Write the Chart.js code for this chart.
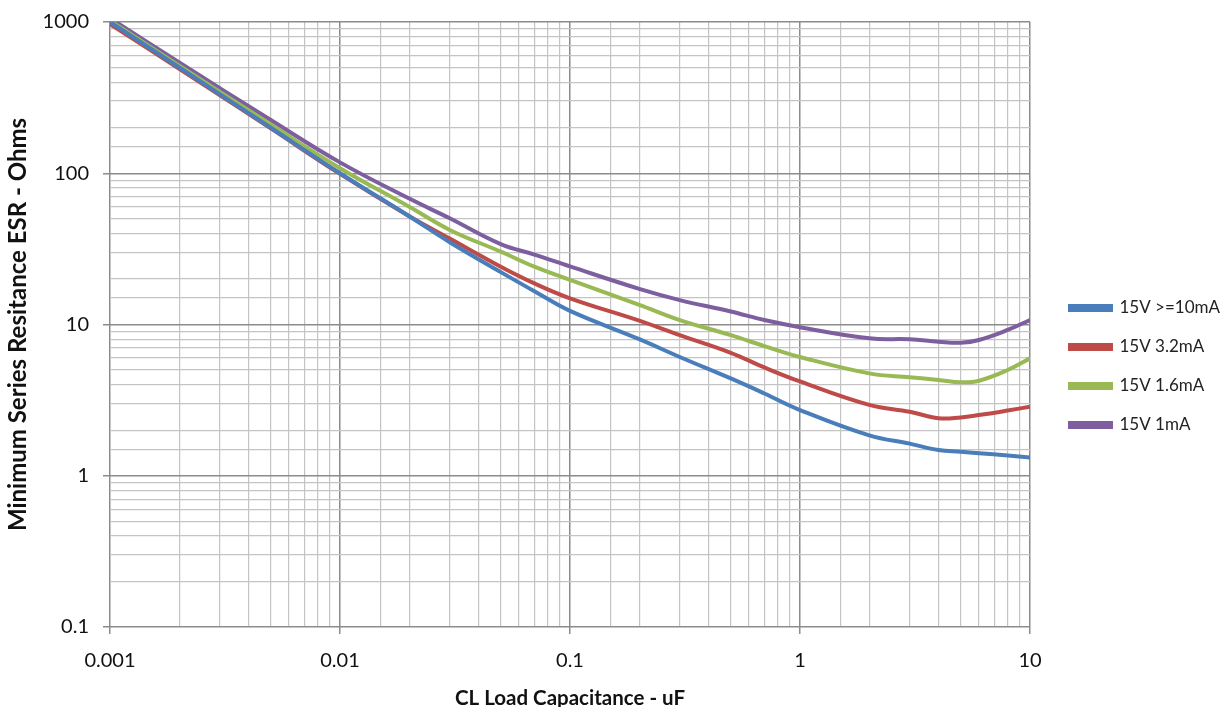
<!DOCTYPE html>
<html>
<head>
<meta charset="utf-8">
<script src="https://cdn.jsdelivr.net/npm/chart.js@4/dist/chart.umd.min.js"></script>
<style>
  html, body { margin: 0; padding: 0; background: #fff; }
  #wrap { width: 1222px; height: 707px; }
</style>
</head>
<body>
<div id="wrap"><canvas id="esrChart"></canvas></div>
<script>
// capacitance in uF, ESR in ohms
const capacitance = [0.001, 0.002, 0.005, 0.01, 0.02, 0.03, 0.05, 0.07, 0.1, 0.2, 0.3, 0.5, 0.7, 1, 2, 3, 4, 5, 6, 8, 10];
const esr10mA = [1000, 500, 200, 100, 52, 35, 22.2, 16.6, 12.3, 8.0, 6.1, 4.4, 3.5, 2.72, 1.85, 1.63, 1.48, 1.44, 1.41, 1.36, 1.32];
const esr3p2mA = [970, 490, 198, 99, 52, 37, 24.1, 18.7, 14.9, 10.6, 8.5, 6.5, 5.2, 4.2, 2.94, 2.65, 2.4, 2.43, 2.52, 2.7, 2.86];
const esr1p6mA = [1020, 515, 210, 108, 60, 42.2, 30.3, 24.1, 19.7, 13.5, 10.7, 8.5, 7.2, 6.1, 4.75, 4.48, 4.3, 4.15, 4.25, 5.0, 5.97];
const esr1mA = [1060, 540, 225, 118, 68, 50.4, 34, 29, 24.2, 17.2, 14.5, 12.2, 10.7, 9.6, 8.1, 7.98, 7.7, 7.58, 7.9, 9.2, 10.7];
const seriesNames = ['15V >=10mA', '15V 3.2mA', '15V 1.6mA', '15V 1mA'];
const seriesColors = ['#4a7ebb', '#be4b48', '#98b954', '#7d5fa0'];

function isDecade(v) {
  const l = Math.log10(v);
  return Math.abs(l - Math.round(l)) < 1e-6;
}

function makeSet(i, values) {
  return {
    label: seriesNames[i],
    data: capacitance.map((c, k) => ({ x: c, y: values[k] })),
    borderColor: seriesColors[i],
    backgroundColor: seriesColors[i],
    borderWidth: 4,
    pointRadius: 0,
    tension: 0.4,
    fill: false,
  };
}

const gridOpts = {
  color: (ctx) => (ctx.tick && isDecade(ctx.tick.value) ? '#8c8c8c' : '#c4c4c4'),
  lineWidth: (ctx) => (ctx.tick && isDecade(ctx.tick.value) ? 1.5 : 1.2),
  tickColor: (ctx) => (ctx.tick && isDecade(ctx.tick.value) ? '#8c8c8c' : 'rgba(0,0,0,0)'),
  tickLength: 7,
  drawTicks: true,
};

// draw the legend a little right/down of its layout box (layout itself untouched)
const legendShift = {
  id: 'legendShift',
  beforeDraw(chart) {
    const lg = chart.legend;
    lg.left += 18; lg.right += 18;
    lg.top += 2; lg.bottom += 2;
  },
  afterDraw(chart) {
    const lg = chart.legend;
    lg.left -= 18; lg.right -= 18;
    lg.top -= 2; lg.bottom -= 2;
  },
};

let ctx = document.getElementById('esrChart').getContext('2d');
new Chart(ctx, {
  type: 'line',
  data: {
    datasets: [
      makeSet(0, esr10mA),
      makeSet(1, esr3p2mA),
      makeSet(2, esr1p6mA),
      makeSet(3, esr1mA),
    ],
  },
  options: {
    responsive: true,
    maintainAspectRatio: false,
    animation: false,
    layout: { padding: { top: 22, right: 10, left: 0, bottom: 0 } },
    plugins: {
      tooltip: { enabled: false },
      legend: {
        position: 'right',
        labels: {
          boxWidth: 41,
          boxHeight: 4,
          padding: 22,
          color: '#222',
          font: { family: 'Lato', size: 17 },
        },
      },
    },
    scales: {
      x: {
        type: 'logarithmic',
        min: 0.001,
        max: 10,
        border: { display: false },
        grid: gridOpts,
        ticks: {
          autoSkip: false,
          maxRotation: 0,
          color: '#111',
          padding: 15,
          font: { family: 'Lato', size: 20 },
          callback: (v) => (isDecade(v) ? String(Number(v.toPrecision(3))) : ''),
        },
        title: {
          display: true,
          text: 'CL Load Capacitance - uF',
          color: '#111',
          font: { family: 'Lato', size: 20.5, weight: 'bold', lineHeight: 0.8 },
          padding: { top: 12, bottom: 0 },
        },
        afterFit: (scale) => { scale.height = 80; },
      },
      y: {
        type: 'logarithmic',
        min: 0.1,
        max: 1000,
        border: { display: false },
        grid: gridOpts,
        ticks: {
          autoSkip: false,
          color: '#111',
          padding: 14,
          font: { family: 'Lato', size: 20, lineHeight: 0.8 },
          callback: (v) => (isDecade(v) ? String(Number(v.toPrecision(3))) : ''),
        },
        title: {
          display: true,
          text: 'Minimum Series Resitance ESR - Ohms',
          color: '#111',
          font: { family: 'Lato', size: 24, weight: 'bold' },
          padding: { bottom: 2 },
        },
        afterFit: (scale) => { scale.width = 110; },
      },
    },
  },
  plugins: [legendShift],
});
</script>
</body>
</html>
